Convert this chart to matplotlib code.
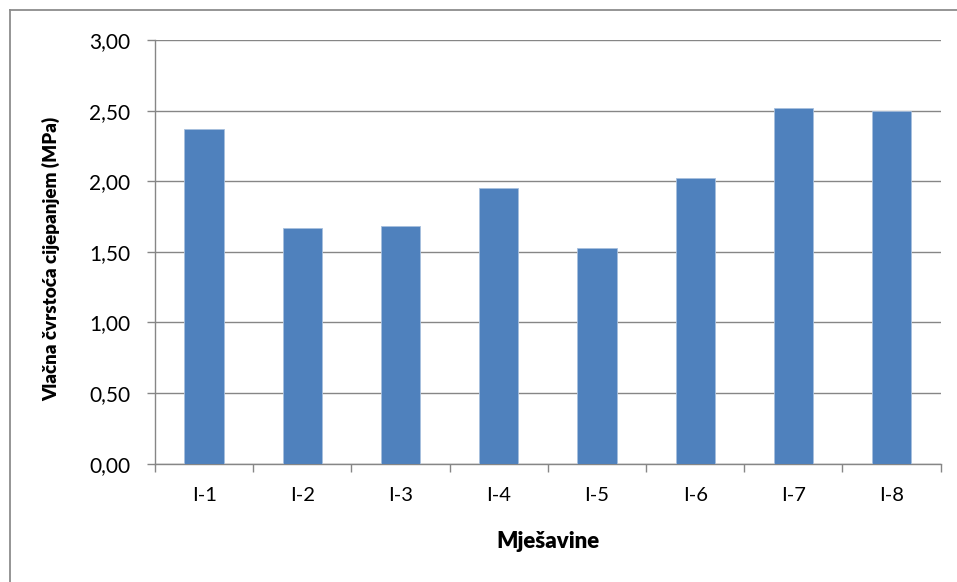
import matplotlib
matplotlib.use("Agg")
import matplotlib.pyplot as plt
from matplotlib import ticker
from matplotlib.lines import Line2D

# data
categories = ["I-1", "I-2", "I-3", "I-4", "I-5", "I-6", "I-7", "I-8"]
values = [2.37, 1.67, 1.68, 1.95, 1.53, 2.02, 2.52, 2.50]
y_ticks = [0.0, 0.5, 1.0, 1.5, 2.0, 2.5, 3.0]

plt.rcParams['font.family'] = ['Lato', 'DejaVu Sans']

W, H = 957, 582
fig = plt.figure(figsize=(W / 100, H / 100), dpi=100)
ax = fig.add_axes([155 / W, 1 - 463.7 / H, (940.7 - 155) / W, (463.7 - 40) / H])

# chart border (cropped: only top and left edges visible)
fig.add_artist(Line2D([9.5 / W, 9.5 / W], [0, 1 - 10 / H], transform=fig.transFigure,
                      color='#8c8c8c', linewidth=1.3))
fig.add_artist(Line2D([9.5 / W, 1], [1 - 10 / H, 1 - 10 / H], transform=fig.transFigure,
                      color='#8c8c8c', linewidth=1.3))

x = list(range(len(categories)))
ax.bar(x, values, width=0.4, color='#4F81BD', edgecolor='#a7bfde',
       linewidth=0.6, zorder=3)

ax.set_xlim(-0.5, len(categories) - 0.5)
ax.set_ylim(0, 3)
ax.set_yticks(y_ticks)
ax.yaxis.set_major_formatter(ticker.FuncFormatter(lambda v, pos: f"{v:.2f}".replace('.', ',')))
ax.set_xticks(x)
ax.set_xticklabels(categories)
# category boundary tick marks
ax.set_xticks([i - 0.5 for i in range(len(categories) + 1)], minor=True)
ax.tick_params(axis='x', which='major', length=0, pad=17, labelsize=14.5)
ax.tick_params(axis='x', which='minor', length=6, color='#868686', width=1)
ax.tick_params(axis='y', length=6, color='#868686', width=1, labelsize=15, pad=12)

ax.grid(axis='y', color='#868686', linewidth=1, zorder=0)
for side in ('top', 'right'):
    ax.spines[side].set_visible(False)
for side in ('left', 'bottom'):
    ax.spines[side].set_color('#868686')
    ax.spines[side].set_linewidth(1)

fig.text(51 / W, 1 - 259 / H, "Vlačna čvrstoća cijepanjem (MPa)", rotation=90,
         ha='center', va='center', fontsize=13.5, fontweight='heavy')
fig.text(548 / W, 1 - 541 / H, "Mješavine", ha='center', va='center',
         fontsize=16, fontweight='heavy')

fig.savefig("out.png", dpi=100)
